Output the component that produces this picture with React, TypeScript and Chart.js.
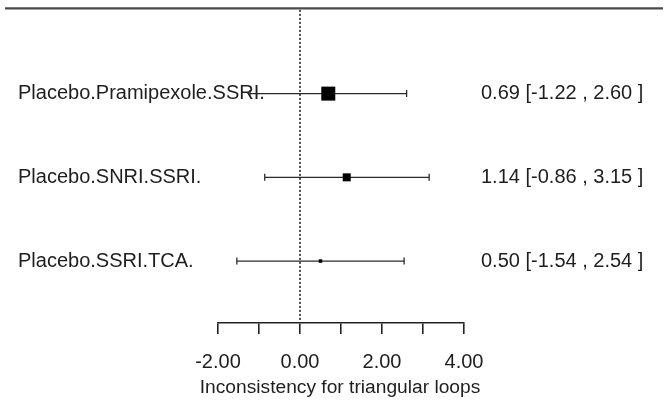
import { useEffect, useRef } from 'react';
import { Chart, registerables } from 'chart.js';

Chart.register(...registerables);

// ---- data ----
const comparisons = ['Placebo.Pramipexole.SSRI.', 'Placebo.SNRI.SSRI.', 'Placebo.SSRI.TCA.'];
const estimates = [0.69, 1.14, 0.5];
const lowerCI = [-1.22, -0.86, -1.54];
const upperCI = [2.6, 3.15, 2.54];
const xTicks = [-2, -1, 0, 1, 2, 3, 4];
const axisTitle = 'Inconsistency for triangular loops';

// ---- styles ----
const squareSides = [14, 8, 3.5];
const FONT = "'Liberation Sans', Arial, Helvetica, sans-serif";
const TEXT = '#1e1e1e';
const INK = '#222222';

const rowOf = (i: number) => i + 1;

const forestPlugin = {
  id: 'forest',
  beforeDatasetsDraw(chart: any) {
    const { ctx, scales, chartArea } = chart;
    const xs = scales.x;
    const ys = scales.y;
    ctx.save();
    // top rule
    ctx.strokeStyle = '#4a4a4a';
    ctx.lineWidth = 2.2;
    ctx.beginPath();
    ctx.moveTo(5, chartArea.top - 1.5);
    ctx.lineTo(663, chartArea.top - 1.5);
    ctx.stroke();
    // null line
    const x0 = xs.getPixelForValue(0);
    ctx.strokeStyle = '#222';
    ctx.lineWidth = 1.6;
    ctx.setLineDash([2, 2]);
    ctx.beginPath();
    ctx.moveTo(x0, chartArea.top);
    ctx.lineTo(x0, chartArea.bottom);
    ctx.stroke();
    ctx.setLineDash([]);
    // labels
    ctx.fillStyle = TEXT;
    ctx.font = `20px ${FONT}`;
    ctx.textBaseline = 'middle';
    comparisons.forEach((lab, i) => {
      const y = ys.getPixelForValue(rowOf(i));
      ctx.textAlign = 'left';
      ctx.fillText(lab, 18, y);
      const txt = `${estimates[i].toFixed(2)} [-${Math.abs(lowerCI[i]).toFixed(2)} , ${upperCI[i].toFixed(2)} ]`;
      ctx.fillText(txt, 481, y);
    });
    // CI lines
    ctx.strokeStyle = '#2a2a2a';
    ctx.lineWidth = 1.3;
    comparisons.forEach((_, i) => {
      const y = ys.getPixelForValue(rowOf(i));
      const a = xs.getPixelForValue(lowerCI[i]);
      const b = xs.getPixelForValue(upperCI[i]);
      ctx.beginPath();
      ctx.moveTo(a, y);
      ctx.lineTo(b, y);
      ctx.moveTo(a, y - 3.5);
      ctx.lineTo(a, y + 3.5);
      ctx.moveTo(b, y - 3.5);
      ctx.lineTo(b, y + 3.5);
      ctx.stroke();
    });
    ctx.restore();
  },
  afterDraw(chart: any) {
    const { ctx, scales } = chart;
    const xs = scales.x;
    ctx.save();
    ctx.fillStyle = TEXT;
    ctx.font = `19.2px ${FONT}`;
    ctx.textAlign = 'center';
    ctx.textBaseline = 'middle';
    ctx.fillText(axisTitle, (xs.left + xs.right) / 2 - 1, 388);
    ctx.restore();
  },
};

export default function App() {
  const ref = useRef<HTMLCanvasElement | null>(null);
  useEffect(() => {
    document.body.style.margin = '0';
    if (!ref.current) return;
    const chart = new Chart(ref.current, {
      type: 'scatter',
      data: {
        datasets: [
          {
            data: estimates.map((v, i) => ({ x: v, y: rowOf(i) })),
            pointStyle: 'rect',
            pointRadius: squareSides.map((s) => s / (2 * Math.SQRT1_2)),
            backgroundColor: '#000',
            borderColor: '#000',
            borderWidth: 0,
          },
        ],
      },
      options: {
        responsive: false,
        animation: false,
        events: [],
        layout: { padding: { left: 218, right: 202, top: 7, bottom: 0 } },
        plugins: { legend: { display: false }, tooltip: { enabled: false } },
        scales: {
          x: {
            type: 'linear',
            min: xTicks[0],
            max: xTicks[xTicks.length - 1],
            afterBuildTicks: (axis: any) => {
              axis.ticks = xTicks.map((v) => ({ value: v }));
            },
            afterFit: (axis: any) => {
              axis.height = 92;
            },
            ticks: {
              color: TEXT,
              font: { family: FONT, size: 20 },
              padding: 16,
              maxRotation: 0,
              autoSkip: false,
              callback: (v: any) => (Number(v) % 2 === 0 ? Number(v).toFixed(2) : ''),
            },
            grid: {
              display: true,
              drawOnChartArea: false,
              drawTicks: true,
              tickLength: 11,
              color: INK,
              lineWidth: 1.6,
            },
            border: { display: true, color: INK, width: 1.6 },
            title: { display: false },
          },
          y: {
            type: 'linear',
            display: false,
            reverse: true,
            min: 0,
            max: 3.74,
          },
        },
      },
      plugins: [forestPlugin],
    });
    return () => chart.destroy();
  }, []);
  return (
    <div style={{ width: 666, height: 415, background: '#fff' }}>
      <canvas ref={ref} width={666} height={415} style={{ display: 'block' }} />
    </div>
  );
}
